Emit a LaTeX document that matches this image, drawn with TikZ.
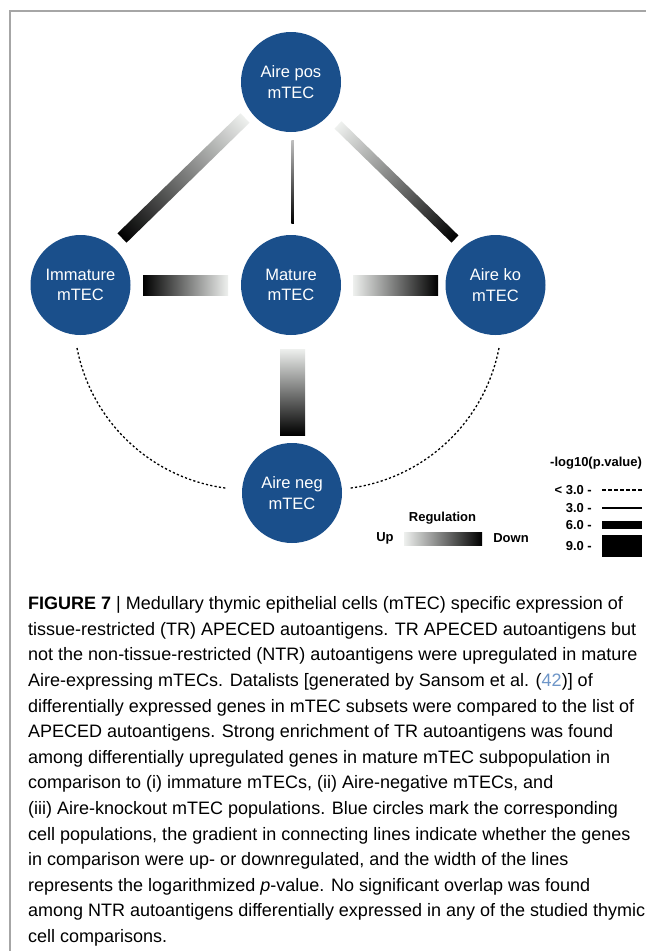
\documentclass[tikz,border=0pt]{standalone}
\usepackage{fontspec}
\setmainfont{Liberation Sans}
\usetikzlibrary{calc}
\definecolor{cellblue}{RGB}{26,79,139}
\definecolor{framegray}{RGB}{166,166,166}
\definecolor{citeblue}{RGB}{110,150,200}
\definecolor{barlight}{RGB}{238,240,238}

\newcommand\gradbar[5]{%
  \path (#1); \pgfgetlastxy{\gbxa}{\gbya}%
  \path (#2); \pgfgetlastxy{\gbxb}{\gbyb}%
  \pgfmathsetmacro\gbang{atan2(\gbyb-\gbya,\gbxb-\gbxa)}%
  \pgfmathsetmacro\gblen{veclen(\gbxb-\gbxa,\gbyb-\gbya)}%
  \begin{scope}[transform canvas={shift={($(#1)!0.5!(#2)$)},rotate=\gbang}]
    \shade[left color=#4,right color=#5] ({-0.5*\gblen pt},{-0.5*#3 pt}) rectangle ({0.5*\gblen pt},{0.5*#3 pt});
  \end{scope}}

\begin{document}
\begin{tikzpicture}[x=1pt,y=1pt,
  cell/.style={circle, fill=cellblue, minimum size=100pt, inner sep=0pt, text=white, align=center,
    font=\fontsize{16.5}{20.5}\selectfont},
  dotline/.style={line width=1.3pt, dash pattern=on 2.2pt off 2.2pt},
  legtext/.style={font=\bfseries\fontsize{13}{15}\selectfont, inner sep=0pt},
]
\useasboundingbox (0,0) rectangle (646,-951);
\fill[white] (0,0) rectangle (646,-951);
\draw[framegray, line width=2pt] (10,-951) -- (10,-11) -- (646,-11);

% cells
\node[cell] (pos) at (291,-82) {Aire pos\\mTEC};
\node[cell] (imm) at (80.5,-285) {Immature\\mTEC};
\node[cell] (mat) at (291,-285) {Mature\\mTEC};
\node[cell] (ko)  at (495.5,-285) {Aire ko\\mTEC};
\node[cell] (neg) at (292,-493) {Aire neg\\mTEC};

% connector end points
\coordinate (d1a) at ($(pos)+(-46,-36)$);
\coordinate (d1b) at ($(imm)+(41.5,47)$);
\coordinate (d2a) at ($(pos)+(47,-43)$);
\coordinate (d2b) at ($(ko)+(-40.5,46)$);
\coordinate (t1a) at ($(pos)+(1.5,-58)$);
\coordinate (t1b) at ($(mat)+(1.5,62)$);
\coordinate (h1a) at ($(imm)+(62.5,0)$);
\coordinate (h1b) at ($(mat)+(-63,0)$);
\coordinate (h2a) at ($(mat)+(62,0)$);
\coordinate (h2b) at ($(ko)+(-57.5,0)$);
\coordinate (v1a) at ($(mat)+(1.5,-64)$);
\coordinate (v1b) at ($(neg)+(0.5,58)$);

\gradbar{d1a}{d1b}{13}{barlight}{black}
\gradbar{d2a}{d2b}{10}{barlight}{black}
\gradbar{t1a}{t1b}{2.5}{gray!50}{black}
\gradbar{h1a}{h1b}{20}{black}{barlight}
\gradbar{h2a}{h2b}{20}{barlight}{black}
\gradbar{v1a}{v1b}{25}{barlight}{black}

% non-significant comparisons
\draw[dotline] ($(imm.center)+(-3.5,-63)$) arc[start angle=191, end angle=263, radius=175];
\draw[dotline] ($(ko.center)+(3.5,-63)$) arc[start angle=-11, end angle=-83, radius=175];

% regulation legend
\node[legtext] (reg) at (442.5,-518) {Regulation};
\node[legtext] (up) at (385,-538.5) {Up};
\node[legtext] (down) at (511,-538.5) {Down};
\shade[left color=barlight, right color=black] (404,-532) rectangle (482,-545);

% p-value legend
\node[legtext, anchor=west] (lgt) at (550,-463) {-log10(p.value)};
\node[legtext, anchor=east] (l1) at (592,-490) {< 3.0 -};
\node[legtext, anchor=east] (l2) at (592,-508) {3.0 -};
\node[legtext, anchor=east] (l3) at (592,-525) {6.0 -};
\node[legtext, anchor=east] (l4) at (592,-546) {9.0 -};
\draw[line width=1.2pt, dash pattern=on 3.5pt off 2.5pt] ($(l1.east)+(10,0)$) -- ++(40,0);
\draw[line width=1.8pt] ($(l2.east)+(10,0)$) -- ++(40,0);
\fill (602,-521) rectangle (642,-528.5);
\fill (602,-535) rectangle (642,-557);

% caption
\node[anchor=north west, align=left, inner sep=0pt,
  font=\fontsize{18}{25.6}\selectfont] (cap) at (28,-596.5) {%
\textbf{FIGURE 7} | Medullary thymic epithelial cells (mTEC) specific expression of\\
tissue-restricted (TR) APECED autoantigens. TR APECED autoantigens but\\
not the non-tissue-restricted (NTR) autoantigens were upregulated in mature\\
Aire-expressing mTECs. Datalists [generated by Sansom et al. ({\color{citeblue}42})] of\\
differentially expressed genes in mTEC subsets were compared to the list of\\
APECED autoantigens. Strong enrichment of TR autoantigens was found\\
among differentially upregulated genes in mature mTEC subpopulation in\\
comparison to (i) immature mTECs, (ii) Aire-negative mTECs, and\\
(iii) Aire-knockout mTEC populations. Blue circles mark the corresponding\\
cell populations, the gradient in connecting lines indicate whether the genes\\
in comparison were up- or downregulated, and the width of the lines\\
represents the logarithmized \textit{p}-value. No significant overlap was found\\
among NTR autoantigens differentially expressed in any of the studied thymic\\
cell comparisons.};
\end{tikzpicture}
\end{document}
